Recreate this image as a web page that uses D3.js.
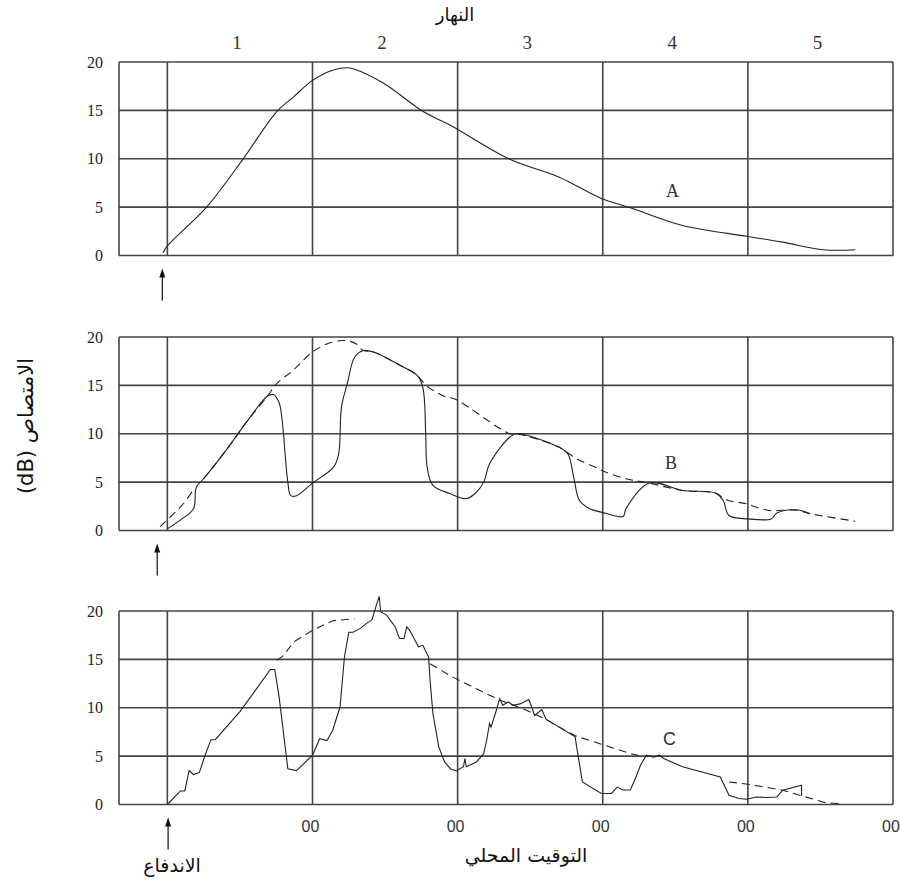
<!DOCTYPE html>
<html><head><meta charset="utf-8">
<script src="https://cdn.jsdelivr.net/npm/d3@7"></script>
<style>body{margin:0;background:#fff}svg{display:block}</style>
</head><body>
<script>
// ---- data (x in days after the burst, y in dB) ----
const dayLabels = ["1","2","3","4","5"];
const timeLabels = ["00","00","00","00","00"];
const yTicks = [0,5,10,15,20];
const panelNames = ["A","B","C"];

const curveA = [[-0.03,0.28],[0,1.0],[0.27,5],[0.52,9.94],[0.755,14.9],[0.87,16.4],[1.0,18.1],[1.14,19.15],[1.24,19.4],[1.28,19.3],[1.49,17.8],[1.76,14.9],[1.95,13.46],[2.36,9.94],[2.70,8.1],[2.99,5.9],[3.19,4.94],[3.55,3.1],[4.0,1.97],[4.24,1.38],[4.52,0.59],[4.74,0.59]];

const curveB = [[0,0.17],[0.1,1.2],[0.18,2.25],[0.2,4.5],[0.25,5.35],[0.4,8.2],[0.55,11.3],[0.69,13.9],[0.73,14.05],[0.77,13.2],[0.79,11.5],[0.80,10.0],[0.83,5.0],[0.85,3.6],[0.89,3.6],[1.0,4.9],[1.145,6.55],[1.18,7.9],[1.20,12.8],[1.24,15.2],[1.29,17.9],[1.35,18.6],[1.42,18.45],[1.6,17.1],[1.72,16.05],[1.76,14.8],[1.78,10.0],[1.79,6.55],[1.83,4.66],[1.95,3.8],[2.06,3.28],[2.13,3.97],[2.18,5.0],[2.22,6.9],[2.36,9.66],[2.41,10.0],[2.70,8.6],[2.76,7.9],[2.80,5.5],[2.84,3.1],[2.91,2.25],[2.99,1.9],[3.14,1.45],[3.16,2.25],[3.32,4.9],[3.55,4.14],[3.78,3.86],[3.83,3.1],[3.87,1.55],[4.0,1.2],[4.16,1.2],[4.2,1.8],[4.33,2.14],[4.43,1.73]];
const envelopeB = [[-0.05,0.4],[0.1,2.6],[0.17,4.0],null,[0.25,5.35],[0.4,8.2],[0.55,11.3],[0.69,13.9],[0.755,15.2],[0.87,16.6],[1.0,18.45],[1.14,19.5],[1.24,19.6],[1.30,19.3],[1.35,18.6],[1.42,18.45],[1.6,17.1],[1.72,16.05],[1.79,14.9],[1.92,13.8],[1.98,13.6],[2.36,10.0],[2.41,10.0],[2.70,8.6],[2.81,7.5],[2.97,6.4],[3.01,6.1],[3.16,5.35],[3.32,4.9],[3.55,4.14],[3.78,3.86],[3.85,3.17],[3.99,2.76],[4.06,2.4],[4.15,2.07],[4.33,2.1],[4.43,1.73],[4.74,0.96]];

const curveC = [[0,0],[0.07,1.1],[0.09,1.4],[0.12,1.4],[0.15,3.5],[0.18,3.1],[0.22,3.3],[0.26,5.1],[0.30,6.7],[0.33,6.7],[0.5,9.6],[0.71,13.95],[0.74,13.95],[0.77,11.1],[0.83,3.7],[0.89,3.5],[1.0,5.1],[1.05,6.8],[1.1,6.6],[1.14,7.7],[1.19,10.1],[1.22,15.25],[1.25,17.8],[1.28,17.8],[1.33,18.2],[1.37,18.7],[1.41,19.1],[1.44,20.6],[1.46,21.5],[1.47,19.9],[1.51,19.6],[1.57,18.35],[1.60,17.15],[1.63,17.15],[1.65,18.35],[1.67,18.0],[1.70,17.15],[1.73,16.3],[1.76,16.45],[1.80,15.25],[1.81,12.85],[1.83,9.4],[1.87,5.95],[1.91,4.4],[1.95,3.7],[1.99,3.47],[2.04,3.9],[2.05,4.75],[2.06,3.9],[2.13,4.4],[2.18,5.27],[2.20,6.64],[2.22,8.37],[2.23,8.0],[2.27,9.9],[2.29,10.95],[2.31,10.25],[2.35,10.6],[2.38,10.25],[2.43,10.4],[2.49,10.85],[2.51,10.1],[2.53,9.2],[2.56,9.56],[2.58,9.8],[2.61,8.8],[2.70,8.0],[2.81,7.0],[2.82,5.95],[2.86,2.33],[2.99,1.14],[3.06,1.14],[3.10,1.8],[3.14,1.5],[3.19,1.5],[3.22,2.5],[3.26,4.06],[3.30,5.1],[3.35,4.9],[3.39,5.1],[3.42,4.75],[3.55,3.9],[3.81,2.85],[3.87,0.96],[3.94,0.62],[3.99,0.55],[4.06,0.78],[4.13,0.72],[4.2,0.78],[4.24,1.48],[4.37,2.0],[4.37,0.9]];
const envelopeC = [[0.755,14.9],[0.80,15.4],[0.87,16.8],[1.0,18.0],[1.14,19.0],[1.29,19.2],null,[1.81,14.55],[1.95,13.3],[2.15,11.8],[2.29,10.8],[2.45,9.9],[2.61,8.8],[2.70,8.0],[2.81,7.1],[2.99,6.23],[3.19,5.27],[3.28,4.95],null,[3.87,2.33],[4.0,2.1],[4.24,1.48],[4.37,0.9],[4.54,0.17],[4.64,0.1]];

const solidCurves = [curveA, curveB, curveC];
const dashedCurves = [null, envelopeB, envelopeC];

// ---- layout ----
const W = 900, H = 888;
const svg = d3.select("body").append("svg").attr("width", W).attr("height", H);
const x = d3.scaleLinear().domain([-1/3, 5]).range([119, 893]);
const panelTops = [62, 337, 611];
const panelH = 193.5;
const gridColor = "#444";
const arrowX = [-0.035, -0.07, 0.005];
const labelPos = [[3.48, 6.7], [3.47, 7.0], [3.46, 6.8]];
const labelFonts = ["Liberation Serif", "Liberation Serif", "Liberation Sans"];
const curveTypes = [d3.curveCatmullRom.alpha(0.5), d3.curveCatmullRom.alpha(0.5), d3.curveLinear];

panelTops.forEach((top, i) => {
  const y = d3.scaleLinear().domain([0, 20]).range([top + panelH, top]);
  const g = svg.append("g");
  g.selectAll(".h").data(yTicks).join("line")
    .attr("x1", x(-1/3)).attr("x2", x(5))
    .attr("y1", d => y(d)).attr("y2", d => y(d))
    .attr("stroke", gridColor).attr("stroke-width", 1.6);
  g.selectAll(".v").data([-1/3, 0, 1, 2, 3, 4, 5]).join("line")
    .attr("x1", d => x(d)).attr("x2", d => x(d))
    .attr("y1", y(20)).attr("y2", y(0))
    .attr("stroke", gridColor).attr("stroke-width", 1.6);
  const ax = g.append("g").attr("transform", `translate(${x(-1/3)},0)`)
    .call(d3.axisLeft(y).tickValues(yTicks).tickSize(0).tickPadding(16));
  ax.select(".domain").remove();
  ax.selectAll("text").attr("font-family", "Liberation Serif").attr("font-size", 16).attr("fill", "#222");

  const line = d3.line().defined(d => d != null).x(d => x(d[0])).y(d => y(d[1])).curve(curveTypes[i]);
  if (dashedCurves[i]) {
    g.append("path").datum(dashedCurves[i]).attr("d", line)
      .attr("fill", "none").attr("stroke", "#222").attr("stroke-width", 1.1)
      .attr("stroke-dasharray", "8,5");
  }
  g.append("path").datum(solidCurves[i]).attr("d", line)
    .attr("fill", "none").attr("stroke", "#222").attr("stroke-width", 1.1);

  g.append("text").text(panelNames[i])
    .attr("x", x(labelPos[i][0])).attr("y", y(labelPos[i][1]))
    .attr("text-anchor", "middle").attr("dominant-baseline", "central")
    .attr("font-family", labelFonts[i]).attr("font-size", 18).attr("fill", "#333");

  const ax0 = x(arrowX[i]);
  const ay = y(0) + 13;
  g.append("line").attr("x1", ax0).attr("x2", ax0).attr("y1", ay + 3).attr("y2", ay + 32)
    .attr("stroke", "#111").attr("stroke-width", 1.2);
  g.append("path").attr("d", `M${ax0},${ay} l-3,9 l6,0 z`).attr("fill", "#111");
});

svg.append("g").selectAll("text").data(dayLabels).join("text")
  .text(d => d)
  .attr("x", (d, i) => x(i + 0.5) - 3).attr("y", 49)
  .attr("text-anchor", "middle")
  .attr("font-family", "Liberation Serif").attr("font-size", 19).attr("fill", "#333");

svg.append("g").selectAll("text").data(timeLabels).join("text")
  .text(d => d)
  .attr("x", (d, i) => x(i + 1) - 2).attr("y", 832)
  .attr("text-anchor", "middle")
  .attr("font-family", "Liberation Sans").attr("font-size", 16).attr("fill", "#333");

const ar = "DejaVu Sans";
svg.append("text").text("النهار").attr("x", 455).attr("y", 21)
  .attr("text-anchor", "middle").attr("font-family", ar).attr("font-size", 18).attr("fill", "#111");
svg.append("text").text("التوقيت المحلي").attr("x", 526).attr("y", 862)
  .attr("text-anchor", "middle").attr("font-family", ar).attr("font-size", 19).attr("fill", "#111");
svg.append("text").text("الاندفاع").attr("x", 172).attr("y", 872)
  .attr("text-anchor", "middle").attr("font-family", ar).attr("font-size", 19).attr("fill", "#111");
svg.append("text").text("الامتصاص (dB)")
  .attr("transform", "translate(33,426) rotate(-90)")
  .attr("direction", "rtl")
  .attr("text-anchor", "middle").attr("font-family", ar).attr("font-size", 21).attr("fill", "#111");
</script>
</body></html>
